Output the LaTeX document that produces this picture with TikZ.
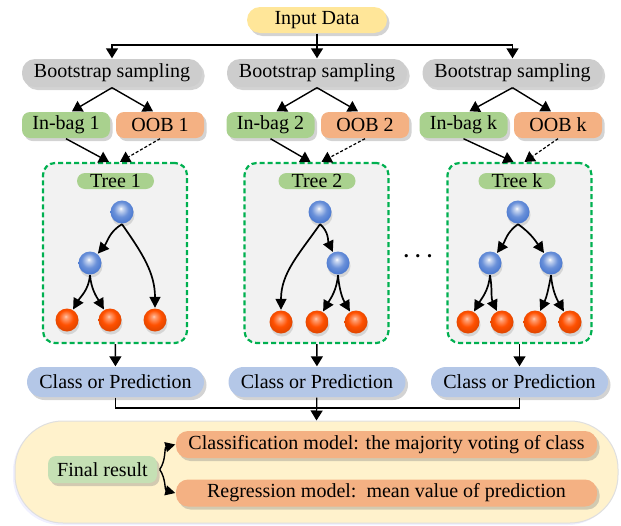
\documentclass[tikz,border=0pt]{standalone}
\usepackage{fontspec}
\setmainfont{Liberation Serif}
\usetikzlibrary{positioning,arrows.meta,shadows}
\definecolor{inputyel}{HTML}{FFE699}
\definecolor{bootgray}{HTML}{CDCDCD}
\definecolor{baggreen}{HTML}{A9D18E}
\definecolor{labgreen}{HTML}{A9D18E}
\definecolor{finalgreen}{HTML}{C5E0B4}
\definecolor{ooborange}{HTML}{F4B183}
\definecolor{cpblue}{HTML}{B4C7E7}
\definecolor{treegreen}{HTML}{00B050}
\definecolor{treegray}{HTML}{F2F2F2}
\definecolor{resultyel}{HTML}{FFF2CC}
\definecolor{ballblue}{RGB}{80,125,210}
\definecolor{ballorange}{RGB}{255,80,0}
\pgfdeclareradialshading{blueshade}{\pgfpoint{-3bp}{8bp}}{color(0bp)=(white);
  color(4bp)=(ballblue!30!white); color(16bp)=(ballblue!85!white); color(25bp)=(ballblue);
  color(50bp)=(ballblue!70!black)}
\pgfdeclareradialshading{orangeshade}{\pgfpoint{-3bp}{8bp}}{color(0bp)=(ballorange!30!white);
  color(4bp)=(ballorange!55!white); color(16bp)=(ballorange); color(25bp)=(ballorange!90!black);
  color(50bp)=(ballorange!70!black)}

\begin{document}
\begin{tikzpicture}[x=1pt,y=-1pt,line width=1.4pt,>={Triangle[length=10pt,width=12pt]},
  font=\fontsize{20}{24}\selectfont\rmfamily,
  pill/.style={inner sep=0pt,drop shadow={shadow xshift=2.5pt,shadow yshift=-3pt,opacity=0.35}},
  boot/.style={pill,fill=bootgray,rounded corners=13pt,minimum width=180pt,minimum height=28pt},
  bag/.style={pill,fill=baggreen,rounded corners=8pt,minimum width=88pt,minimum height=26pt},
  oob/.style={bag,fill=ooborange},
  treebox/.style={draw=treegreen,line width=2.2pt,dash pattern=on 5pt off 3pt,fill=treegray,
    rounded corners=12pt,minimum width=144pt,minimum height=180pt},
  treelab/.style={fill=labgreen,rounded corners=8pt,minimum width=77pt,minimum height=16pt,inner sep=0pt},
  innerball/.style={circle,shading=blueshade,minimum size=23pt,inner sep=0pt,
    drop shadow={shadow xshift=1pt,shadow yshift=-3pt,opacity=0.25}},
  leafball/.style={innerball,shading=orangeshade},
  treearrow/.style={->,line width=1.7pt,>={Triangle[length=11pt,width=11pt]}},
  cp/.style={pill,fill=cpblue,rounded corners=15pt,minimum width=177pt,minimum height=30pt},
  model/.style={pill,fill=ooborange,rounded corners=12pt,minimum width=421pt,minimum height=27pt}]
\useasboundingbox (0,0) rectangle (621,525);

\node[pill,fill=inputyel,rounded corners=13pt,minimum width=140pt,minimum height=26pt] (input) at (317,20) {Input Data};
\node[boot] (boot1) at (112,73) {Bootstrap sampling};
\node[boot] (boot2) at (317,73) {Bootstrap sampling};
\node[boot] (boot3) at (512.5,73) {Bootstrap sampling};
\coordinate (split) at (317,45);
\draw[->] (input) -- (boot2);
\draw[->] (split) -| (boot1);
\draw[->] (split) -| (boot3);

\node[bag] (bag1) at (66,125) {In-bag 1};
\node[oob] (oob1) at (160,125) {OOB 1};
\node[bag] (bag2) at (270.5,125) {In-bag 2};
\node[oob] (oob2) at (365,125) {OOB 2};
\node[bag] (bag3) at (463.5,125) {In-bag k};
\node[oob] (oob3) at (558,125) {OOB k};
\draw[->] (boot1.south) -- ([xshift=6pt]bag1.north);
\draw[->] (boot1.south) -- ([xshift=-7pt]oob1.north);
\draw[->] (boot2.south) -- ([xshift=6pt]bag2.north);
\draw[->] (boot2.south) -- ([xshift=-7pt]oob2.north);
\draw[->] (boot3.south) -- ([xshift=6pt]bag3.north);
\draw[->] (boot3.south) -- ([xshift=-7pt]oob3.north);

\node[treebox] (tree1) at (115,253) {};
\node[treebox] (tree2) at (316.5,253) {};
\node[treebox] (tree3) at (519.5,253) {};
\draw[->] (bag1.south) -- ([xshift=-6pt]tree1.north);
\draw[->,dash pattern=on 3pt off 2pt,line width=1.2pt] (oob1.south) -- ([xshift=5pt]tree1.north);
\draw[->] (bag2.south) -- ([xshift=-6pt]tree2.north);
\draw[->,dash pattern=on 3pt off 2pt,line width=1.2pt] (oob2.south) -- ([xshift=5pt]tree2.north);
\draw[->] (bag3.south) -- ([xshift=-6pt]tree3.north);
\draw[->,dash pattern=on 3pt off 2pt,line width=1.2pt] (oob3.south) -- ([xshift=5pt]tree3.north);

\node[treelab] (lab1) at (115.5,181) {Tree 1};
\node[treelab] (lab2) at (317,181) {Tree 2};
\node[treelab] (lab3) at (517,181) {Tree k};

\node[innerball] (r1) at (122,212) {};
\node[innerball] (m1) at (90,263) {};
\node[leafball] (l11) at (67,320) {};
\node[leafball] (l12) at (110,320) {};
\node[leafball] (l13) at (155,320) {};
\draw[treearrow] (r1.south) to[out=-150,in=50] (m1);
\draw[treearrow] (r1.south) to[out=-55,in=90] (l13);
\draw[treearrow] (m1.south) to[out=-95,in=60] (l11);
\draw[treearrow] (m1.south) to[out=-85,in=120] (l12);

\node[innerball] (r2) at (320,212) {};
\node[innerball] (m2) at (338,263) {};
\node[leafball] (l21) at (281,322) {};
\node[leafball] (l22) at (317,322) {};
\node[leafball] (l23) at (356,322) {};
\draw[treearrow] (r2.south) to[out=-125,in=90] (l21);
\draw[treearrow] (r2.south) to[out=-40,in=115] (m2);
\draw[treearrow] (m2.south) to[out=-95,in=60] (l22);
\draw[treearrow] (m2.south) to[out=-85,in=120] (l23);

\node[innerball] (r3) at (518,212) {};
\node[innerball] (m31) at (490,263) {};
\node[innerball] (m32) at (551,263) {};
\node[leafball] (l31) at (468,322) {};
\node[leafball] (l32) at (502,322) {};
\node[leafball] (l33) at (535,322) {};
\node[leafball] (l34) at (570,322) {};
\draw[treearrow] (r3.south) to[out=-145,in=55] (m31);
\draw[treearrow] (r3.south) to[out=-35,in=125] (m32);
\draw[treearrow] (m31.south) to[out=-95,in=60] (l31);
\draw[treearrow] (m31.south) to[out=-80,in=115] (l32);
\draw[treearrow] (m32.south) to[out=-100,in=65] (l33);
\draw[treearrow] (m32.south) to[out=-85,in=120] (l34);

\node[font=\fontsize{20}{24}\selectfont\bfseries] (dots) at (418,256) {.\,\,.\,\,.};

\node[cp] (cp1) at (115.5,382) {Class or Prediction};
\node[cp] (cp2) at (317,382) {Class or Prediction};
\node[cp] (cp3) at (519.5,382) {Class or Prediction};
\draw[->] (tree1) -- (cp1);
\draw[->] (tree2) -- (cp2);
\draw[->] (tree3) -- (cp3);

\node[fill=resultyel,draw=gray!25,line width=1pt,rounded corners=48pt,minimum width=603pt,minimum height=102pt,
  drop shadow={shadow xshift=-2pt,shadow yshift=-2pt,opacity=0.15,fill=blue!40}] (result) at (316.5,472) {};
\coordinate (merge) at (317,408);
\draw[line width=1.2pt] (cp1) |- (merge) -| (cp3);
\draw[->,line width=1.2pt] (cp2) -- (result.north);

\node[pill,fill=finalgreen,rounded corners=8pt,minimum width=109pt,minimum height=27pt] (final) at (102.5,469.5) {Final result};
\node[model] (cls) at (386.5,444.5) {Classification model: the majority voting of class};
\node[model] (reg) at (386.5,493) {Regression model:\ \ mean value of prediction};
\draw[->,>={Triangle[length=10pt,width=10pt]}] ([xshift=2pt]final.east) to[out=55,in=195] (cls.west);
\draw[->,>={Triangle[length=10pt,width=10pt]}] ([xshift=2pt]final.east) to[out=-55,in=165] (reg.west);
\end{tikzpicture}
\end{document}
